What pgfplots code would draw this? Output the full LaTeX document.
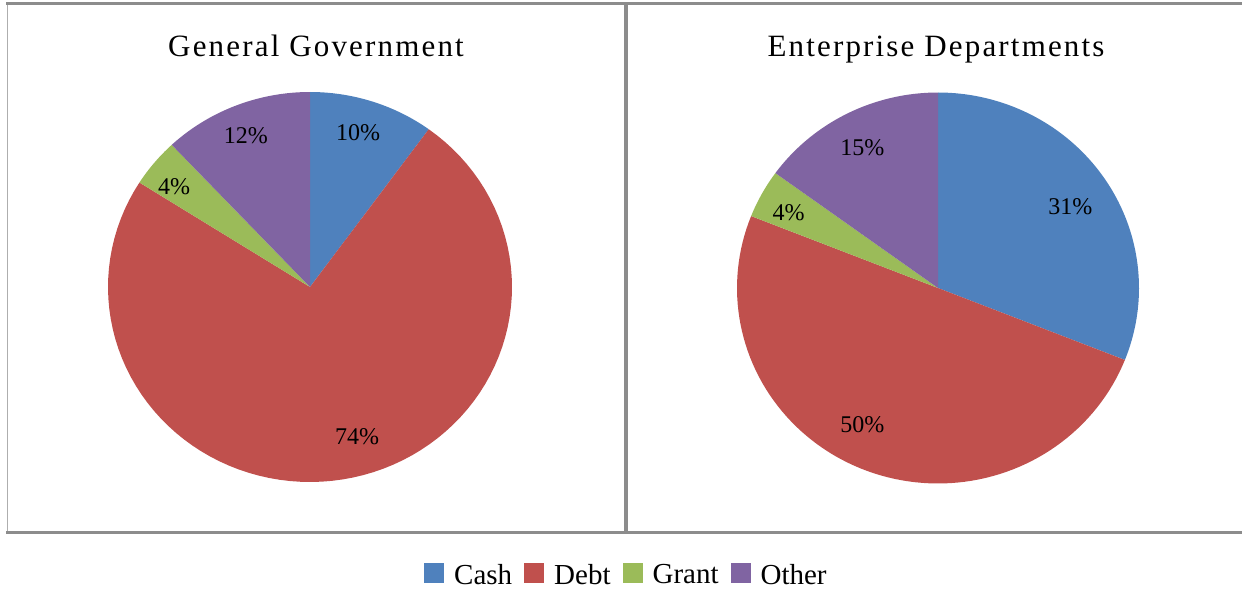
\documentclass[border=0pt]{standalone}
\usepackage{pgfplots}
\pgfplotsset{compat=1.18}
\usepackage{fontspec}
\setmainfont{Liberation Serif}
\definecolor{cashc}{HTML}{4F81BD}
\definecolor{debtc}{HTML}{C0504D}
\definecolor{grantc}{HTML}{9BBB59}
\definecolor{otherc}{HTML}{8064A2}
\definecolor{framec}{HTML}{8C8C8C}
% start (cumulative %), value (%), colour
\newcommand{\pieslice}[3]{%
  \pgfmathsetmacro\sa{#1*3.6}\pgfmathsetmacro\sb{(#1+#2)*3.6}%
  \addplot[draw=none, fill=#3, domain=\sa:\sb, samples=90]
    ({sin(x)},{cos(x)}) -- (axis cs:0,0) -- cycle;}
\pgfplotsset{pie/.style={anchor=center, width=404pt, height=390pt,
  scale only axis, xmin=-1, xmax=1, ymin=-1, ymax=1, hide axis, clip=false}}
\newcommand{\lab}[3]{\node[font=\fontsize{24}{27}\selectfont] at (axis cs:#1,#2) {#3};}
\begin{document}
\begin{tikzpicture}
\useasboundingbox (0,0) rectangle (1242pt,590pt);
% frames
\draw[framec!70, line width=1.5pt] (7.5pt,57.5pt) -- (7.5pt,586pt);
\draw[framec, line width=3pt] (6pt,586pt) -- (1242pt,586pt);
\draw[framec, line width=3pt] (6pt,57.5pt) -- (1242pt,57.5pt);
\draw[framec, line width=4pt] (626pt,57.5pt) -- (626pt,586pt);
\node[font=\fontsize{31}{34}\selectfont\addfontfeature{LetterSpace=7}, anchor=base] at (316pt,533pt) {General Government};
\node[font=\fontsize{31}{34}\selectfont\addfontfeature{LetterSpace=7}, anchor=base] at (936pt,533pt) {Enterprise Departments};
\begin{axis}[pie, at={(310pt,303pt)},
  legend columns=4,
  legend style={draw=none, fill=none, at={(axis description cs:1.282,-0.238)}, anchor=center,
    font=\fontsize{29}{32}\selectfont, /tikz/every even column/.append style={column sep=11pt},
    nodes={inner sep=1pt}},
  legend image code/.code={\fill[#1] (0pt,-8pt) rectangle (20pt,12pt); \path (29pt,0pt);}]
\pieslice{0}{10}{cashc}
\pieslice{10}{74}{debtc}
\pieslice{84}{4}{grantc}
\pieslice{88}{12}{otherc}
\legend{Cash,Debt,Grant,Other}
\lab{0.238}{0.790}{10\%}
\lab{0.233}{-0.769}{74\%}
\lab{-0.673}{0.513}{4\%}
\lab{-0.317}{0.774}{12\%}
\end{axis}
\begin{axis}[pie, at={(938pt,302pt)}, width=402pt, height=391pt]
\pieslice{0}{31}{cashc}
\pieslice{31}{50}{debtc}
\pieslice{81}{4}{grantc}
\pieslice{85}{15}{otherc}
\lab{0.658}{0.415}{31\%}
\lab{-0.376}{-0.697}{50\%}
\lab{-0.743}{0.385}{4\%}
\lab{-0.376}{0.718}{15\%}
\end{axis}
\end{tikzpicture}
\end{document}
